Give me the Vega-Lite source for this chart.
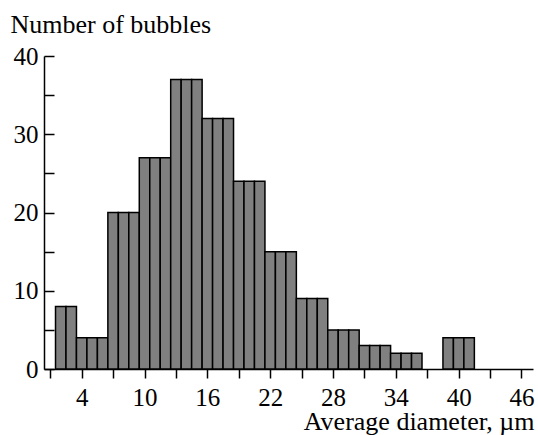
{
  "$schema": "https://vega.github.io/schema/vega-lite/v6.json",
  "width": 489,
  "height": 313,
  "autosize": {"type": "none"},
  "padding": {"left": 44, "top": 56, "right": 5, "bottom": 66},
  "background": "white",
  "config": {
    "font": "Liberation Serif",
    "view": {"stroke": null},
    "axis": {
      "grid": false,
      "domainColor": "black",
      "domainWidth": 1.5,
      "tickColor": "black",
      "tickWidth": 1.5,
      "labelFont": "Liberation Serif",
      "titleFont": "Liberation Serif",
      "labelFontSize": 25,
      "titleFontSize": 26,
      "labelColor": "black",
      "titleColor": "black",
      "titleFontWeight": "normal"
    }
  },
  "data": {
    "values": [
      {"start": 1.5, "end": 2.5, "count": 8},
      {"start": 2.5, "end": 3.5, "count": 8},
      {"start": 3.5, "end": 4.5, "count": 4},
      {"start": 4.5, "end": 5.5, "count": 4},
      {"start": 5.5, "end": 6.5, "count": 4},
      {"start": 6.5, "end": 7.5, "count": 20},
      {"start": 7.5, "end": 8.5, "count": 20},
      {"start": 8.5, "end": 9.5, "count": 20},
      {"start": 9.5, "end": 10.5, "count": 27},
      {"start": 10.5, "end": 11.5, "count": 27},
      {"start": 11.5, "end": 12.5, "count": 27},
      {"start": 12.5, "end": 13.5, "count": 37},
      {"start": 13.5, "end": 14.5, "count": 37},
      {"start": 14.5, "end": 15.5, "count": 37},
      {"start": 15.5, "end": 16.5, "count": 32},
      {"start": 16.5, "end": 17.5, "count": 32},
      {"start": 17.5, "end": 18.5, "count": 32},
      {"start": 18.5, "end": 19.5, "count": 24},
      {"start": 19.5, "end": 20.5, "count": 24},
      {"start": 20.5, "end": 21.5, "count": 24},
      {"start": 21.5, "end": 22.5, "count": 15},
      {"start": 22.5, "end": 23.5, "count": 15},
      {"start": 23.5, "end": 24.5, "count": 15},
      {"start": 24.5, "end": 25.5, "count": 9},
      {"start": 25.5, "end": 26.5, "count": 9},
      {"start": 26.5, "end": 27.5, "count": 9},
      {"start": 27.5, "end": 28.5, "count": 5},
      {"start": 28.5, "end": 29.5, "count": 5},
      {"start": 29.5, "end": 30.5, "count": 5},
      {"start": 30.5, "end": 31.5, "count": 3},
      {"start": 31.5, "end": 32.5, "count": 3},
      {"start": 32.5, "end": 33.5, "count": 3},
      {"start": 33.5, "end": 34.5, "count": 2},
      {"start": 34.5, "end": 35.5, "count": 2},
      {"start": 35.5, "end": 36.5, "count": 2},
      {"start": 38.5, "end": 39.5, "count": 4},
      {"start": 39.5, "end": 40.5, "count": 4},
      {"start": 40.5, "end": 41.5, "count": 4}
    ]
  },
  "mark": {"type": "rect", "fill": "#808080", "stroke": "black", "strokeWidth": 1.5},
  "encoding": {
    "x": {
      "field": "start",
      "type": "quantitative",
      "scale": {"domain": [0.4, 47.1], "nice": false, "zero": false},
      "axis": {
        "values": [1, 4, 7, 10, 13, 16, 19, 22, 25, 28, 31, 34, 37, 40, 43, 46],
        "labelExpr": "(datum.value - 4) % 6 == 0 ? datum.label : ''",
        "tickSize": 9,
        "labelPadding": 27,
        "labelBaseline": "alphabetic",
        "labelFlush": false,
        "labelOverlap": false,
        "title": "Average diameter, µm",
        "titleAnchor": "end",
        "titleAlign": "right",
        "titleBaseline": "alphabetic",
        "titleX": 490,
        "titleY": 60
      }
    },
    "x2": {"field": "end"},
    "y": {
      "field": "count",
      "type": "quantitative",
      "scale": {"domain": [0, 40], "nice": false},
      "axis": {
        "values": [0, 5, 10, 15, 20, 25, 30, 35, 40],
        "labelExpr": "datum.value % 10 == 0 ? datum.label : ''",
        "tickSize": -10,
        "labelPadding": 16,
        "labelFlush": false,
        "labelOverlap": false,
        "title": "Number of bubbles",
        "titleAngle": 0,
        "titleAlign": "left",
        "titleBaseline": "alphabetic",
        "titleAnchor": "start",
        "titleX": -34,
        "titleY": -24
      }
    },
    "y2": {"datum": 0}
  }
}
